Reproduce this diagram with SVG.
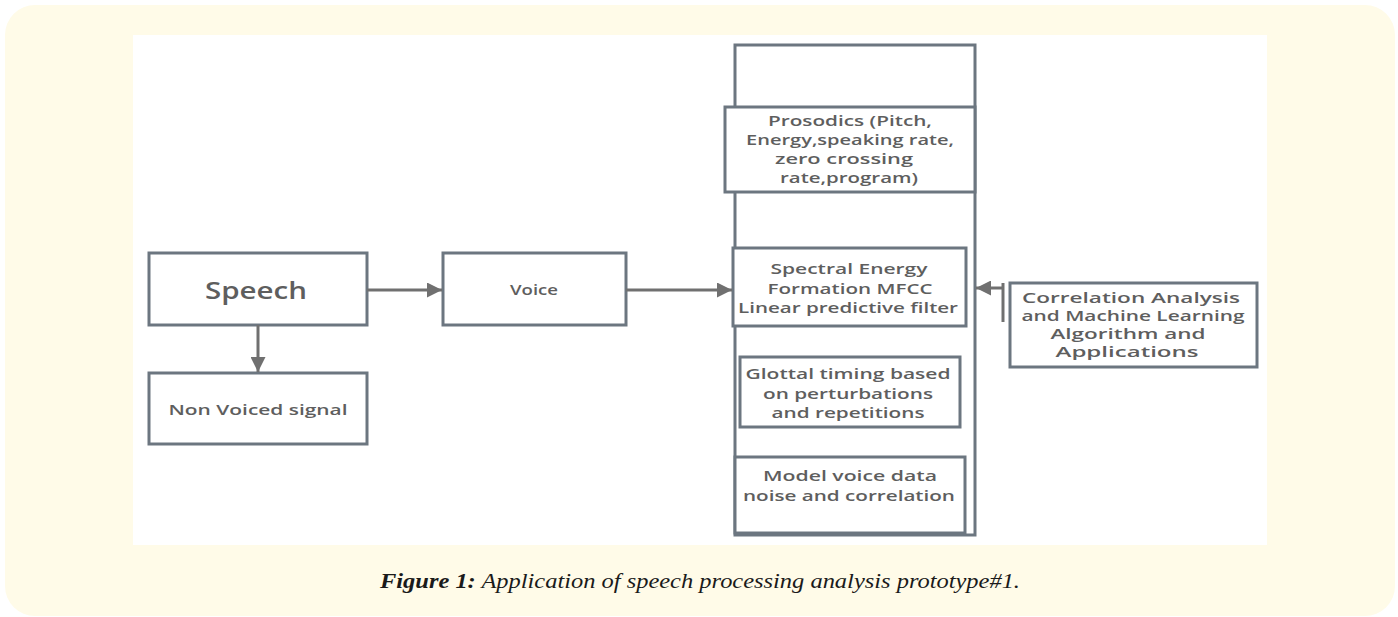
<svg xmlns="http://www.w3.org/2000/svg" width="1398" height="617" viewBox="0 0 1398 617">
<style>
.box{fill:#fff;stroke:#6c7680;stroke-width:3}
.t{font-family:"Open Sans","Noto Sans",sans-serif;font-weight:600;fill:#5e5e5e;text-anchor:middle;font-size:15px}
.s{font-size:14px}
.c{stroke:#707070;stroke-width:3;fill:none}
</style>
<defs>
<marker id="ah" viewBox="0 0 10 10" refX="10" refY="5" markerWidth="5" markerHeight="5" orient="auto" markerUnits="strokeWidth">
<path d="M0,0 L10,5 L0,10 z" fill="#707070"/>
</marker>
</defs>
<rect x="5" y="5" width="1390" height="611" rx="30" fill="#fffbe8"/>
<rect x="133" y="35" width="1134" height="510" fill="#fff"/>
<g id="column"><rect class="box" x="735" y="45" width="240" height="490"/></g>
<g id="speech"><rect class="box" x="149" y="253" width="218" height="72"/><text class="t" x="256" y="299" style="font-size:24px" textLength="102" lengthAdjust="spacingAndGlyphs">Speech</text></g>
<g id="nonvoiced"><rect class="box" x="149" y="373" width="218" height="71"/><text class="t" x="258" y="415" textLength="179" lengthAdjust="spacingAndGlyphs">Non Voiced signal</text></g>
<g id="voice"><rect class="box" x="443" y="253" width="183" height="72"/><text class="t" x="534" y="295" textLength="48" lengthAdjust="spacingAndGlyphs">Voice</text></g>
<g id="prosodics"><rect class="box" x="725" y="107" width="250" height="85"/>
<text class="t" x="850" y="126" textLength="164" lengthAdjust="spacingAndGlyphs">Prosodics (Pitch,</text>
<text class="t" x="850" y="145" textLength="208" lengthAdjust="spacingAndGlyphs">Energy,speaking rate,</text>
<text class="t" x="844" y="164" textLength="138" lengthAdjust="spacingAndGlyphs">zero crossing</text>
<text class="t" x="849" y="183" textLength="138" lengthAdjust="spacingAndGlyphs">rate,program)</text></g>
<g id="spectral"><rect class="box" x="733" y="248" width="233" height="78"/>
<text class="t" x="849" y="274" textLength="157" lengthAdjust="spacingAndGlyphs">Spectral Energy</text>
<text class="t" x="850" y="294" textLength="165" lengthAdjust="spacingAndGlyphs">Formation MFCC</text>
<text class="t" x="848" y="313" textLength="220" lengthAdjust="spacingAndGlyphs">Linear predictive filter</text></g>
<g id="glottal"><rect class="box" x="740" y="357" width="220" height="70"/>
<text class="t" x="848" y="379" textLength="205" lengthAdjust="spacingAndGlyphs">Glottal timing based</text>
<text class="t" x="848" y="399" textLength="170" lengthAdjust="spacingAndGlyphs">on perturbations</text>
<text class="t" x="848" y="418" textLength="153" lengthAdjust="spacingAndGlyphs">and repetitions</text></g>
<g id="model"><rect class="box" x="735" y="457" width="230" height="76"/>
<text class="t" x="850" y="481" textLength="174" lengthAdjust="spacingAndGlyphs">Model voice data</text>
<text class="t" x="849" y="501" textLength="212" lengthAdjust="spacingAndGlyphs">noise and correlation</text></g>
<g id="correlation"><rect class="box" x="1010" y="283" width="247" height="84"/>
<text class="t s" x="1131" y="303" textLength="218" lengthAdjust="spacingAndGlyphs">Correlation Analysis</text>
<text class="t s" x="1133" y="321" textLength="223" lengthAdjust="spacingAndGlyphs">and Machine Learning</text>
<text class="t s" x="1128" y="339" textLength="155" lengthAdjust="spacingAndGlyphs">Algorithm and</text>
<text class="t s" x="1127" y="357" textLength="143" lengthAdjust="spacingAndGlyphs">Applications</text></g>
<g id="connectors">
<line class="c" x1="258" y1="325" x2="258" y2="372" marker-end="url(#ah)"/>
<line class="c" x1="367" y1="290" x2="442" y2="290" marker-end="url(#ah)"/>
<line class="c" x1="626" y1="290" x2="732" y2="290" marker-end="url(#ah)"/>
<line class="c" x1="1003" y1="283" x2="1003" y2="322"/>
<line class="c" x1="1003" y1="288" x2="976" y2="288" marker-end="url(#ah)"/>
</g>
<text x="700" y="588" text-anchor="middle" textLength="640" lengthAdjust="spacingAndGlyphs" style="font-family:'Liberation Serif',serif;font-style:italic;font-size:20px;fill:#1a1a1a"><tspan font-weight="bold">Figure 1:</tspan> Application of speech processing analysis prototype#1.</text>
</svg>
